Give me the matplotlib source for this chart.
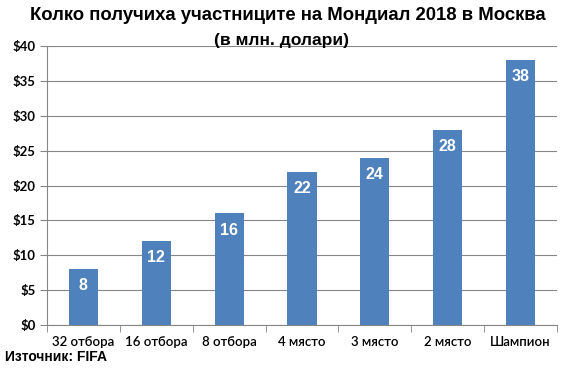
import matplotlib
matplotlib.use("Agg")
import matplotlib.pyplot as plt
import numpy as np

categories = ["32 отбора", "16 отбора", "8 отбора", "4 място", "3 място", "2 място", "Шампион"]
values = [8, 12, 16, 22, 24, 28, 38]
y_ticks = [0, 5, 10, 15, 20, 25, 30, 35, 40]

bar_color = "#4f81bd"
grid_color = "#868686"

fig = plt.figure(figsize=(5.65, 3.7), dpi=100)
ax = fig.add_axes([47 / 565, 1 - 325 / 370, 510 / 565, 279 / 370])

x = np.arange(len(categories))
ax.bar(x, values, width=0.4, color=bar_color, zorder=3)
for xi, v in zip(x, values):
    ax.annotate(str(v), (xi, v), xytext=(0, -12), textcoords="offset points",
                ha="center", va="center", color="white", fontsize=11.5,
                fontweight="bold", family="Liberation Sans", zorder=4)

ax.set_xlim(-0.5, len(categories) - 0.5)
ax.set_ylim(0, 40)
ax.set_yticks(y_ticks)
ax.set_yticklabels([f"${t}" for t in y_ticks], fontsize=9.5, fontweight="bold", family="Lato")
ax.set_xticks(x)
ax.set_xticklabels(categories, fontsize=9.5, family="Lato", fontweight="semibold")
ax.set_xticks(np.arange(len(categories) + 1) - 0.5, minor=True)
ax.tick_params(axis="x", which="major", length=0, pad=8)
ax.tick_params(axis="x", which="minor", length=5, color=grid_color)
ax.tick_params(axis="y", length=5, color=grid_color, pad=3)
ax.grid(axis="y", color=grid_color, linewidth=0.8, zorder=0)
for side in ["top", "right"]:
    ax.spines[side].set_visible(False)
for side in ["left", "bottom"]:
    ax.spines[side].set_color(grid_color)
    ax.spines[side].set_linewidth(0.8)

fig.text(288 / 565, 1 - 15 / 370, "Колко получиха участниците на Мондиал 2018 в Москва",
         ha="center", va="center", fontsize=13.3, fontweight="bold", family="Liberation Sans")
fig.text(281 / 565, 1 - 40 / 370, "(в млн. долари)", ha="center", va="center",
         fontsize=12.5, fontweight="bold", family="Liberation Sans")
fig.text(5 / 565, 1 - 357 / 370, "Източник: FIFA", ha="left", va="center",
         fontsize=10, fontweight="bold", family="Liberation Sans")

fig.savefig("out.png", dpi=100)
